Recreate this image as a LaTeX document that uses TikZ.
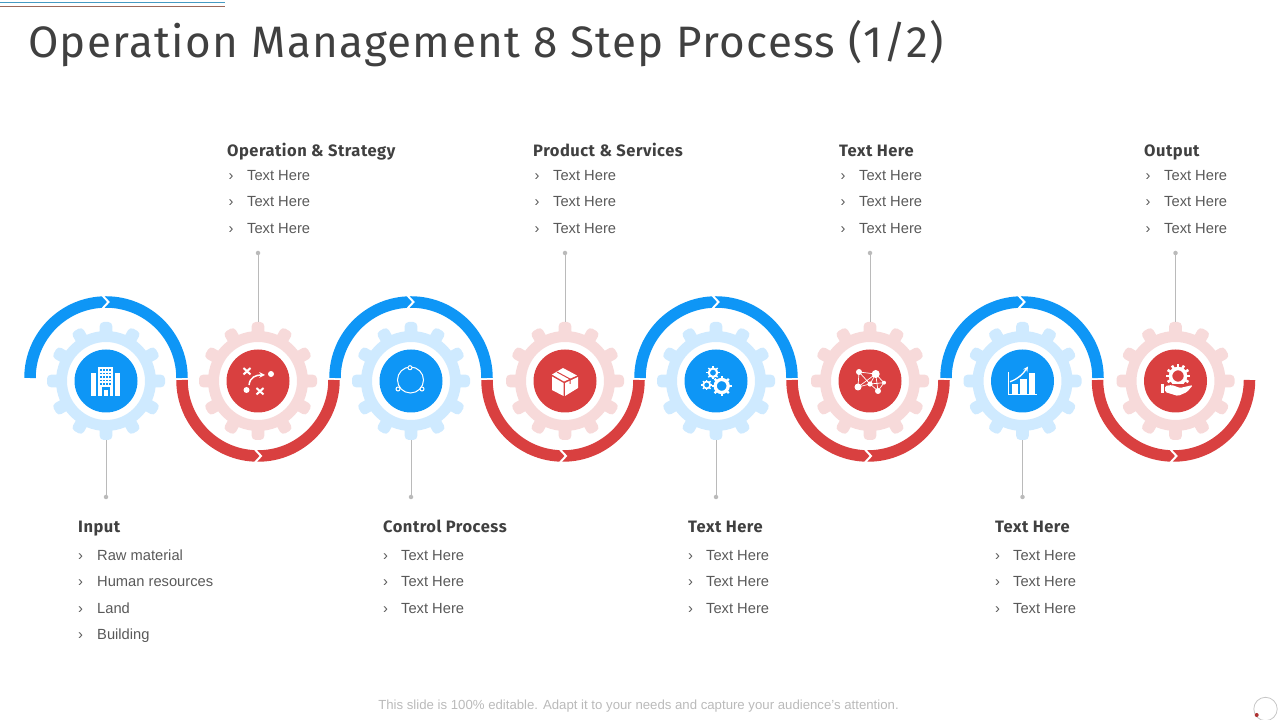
\documentclass[tikz,border=0pt]{standalone}
\usepackage{fontspec}
\setmainfont{Liberation Sans}
\newfontfamily\titlefont[LetterSpace=3]{Fira Sans}
\definecolor{stepblue}{HTML}{0E96F6}
\definecolor{stepred}{HTML}{D94040}
\definecolor{tintblue}{HTML}{CFEAFF}
\definecolor{tintred}{HTML}{F7DADA}
\definecolor{inkdark}{HTML}{404040}
\definecolor{inkgrey}{HTML}{595959}
\begin{document}
\begin{tikzpicture}[x=1pt,y=1pt]
	\tikzstyle{gearhub}=[circle,inner sep=0pt,minimum size=118pt]
	\tikzstyle{disc}=[circle,inner sep=0pt,minimum size=63pt]
	\tikzstyle{pin}=[circle,inner sep=0pt,minimum size=4.5pt,fill=black!27]
	\tikzstyle{leader}=[draw,black!27,line width=1pt]
	\tikzstyle{ribbon}=[line width=11.5pt]
	\tikzstyle{notch}=[draw,white,line width=2pt]
	\tikzstyle{heading}=[anchor=west,inner sep=0pt,text height=11pt,text depth=3pt,text=inkdark,font=\titlefont\bfseries\fontsize{16.5}{20}\selectfont]
	\tikzstyle{item}=[anchor=west,inner sep=0pt,text height=11pt,text depth=3pt,text=inkgrey,font=\fontsize{14.7}{18}\selectfont]
	\useasboundingbox (0,0) rectangle (1280,720);
	% header
	\draw[line width=1pt,color={rgb,255:red,70;green,155;blue,195}] (0,717.3) -- (225,717.3);
	\draw[line width=1pt,color={rgb,255:red,155;green,105;blue,90}] (0,713.7) -- (225,713.7);
	\node[anchor=west,inner sep=0pt,text=inkdark,font=\titlefont\fontsize{44}{50}\selectfont] (title) at (28,676) {Operation Management 8 Step Process (1/2)};
	% gears
	\foreach \gname/\gx/\gcol/\gtint in {1/106/stepblue/tintblue,2/258/stepred/tintred,3/411/stepblue/tintblue,4/565/stepred/tintred,5/716/stepblue/tintblue,6/870/stepred/tintred,7/1022.5/stepblue/tintblue,8/1175.5/stepred/tintred}{
		\foreach \a in {0,30,...,330}
			\fill[\gtint,rotate around={\a:(\gx,339)},rounded corners=4pt] (\gx-6.3,339+44) rectangle (\gx+6.3,339+59);
		\draw[\gtint,line width=11pt] (\gx,339) circle (44.5);
		\node[gearhub] (gear\gname) at (\gx,339) {};
		\node[disc,fill=\gcol] (disc\gname) at (\gx,339) {};
	}
	% ribbons
	\foreach \rx in {106,411,716,1022}{
		\draw[ribbon,stepblue] (\rx-76,342) arc (180:0:76);
		\draw[notch] (\rx-3.5,424.5) -- (\rx+2.5,418) -- (\rx-3.5,411.5);
	}
	\foreach \rx in {258,563,868,1173.5}{
		\draw[ribbon,stepred] (\rx-76,340) arc (180:360:76);
		\draw[notch] (\rx-3,270.5) -- (\rx+3,264) -- (\rx-3,257.5);
	}
	% leaders
	\foreach \gname/\gx in {1/106,3/411,5/716,7/1022.5}{
		\node[pin] (pin\gname) at (\gx,223) {};
		\path[leader] (gear\gname.south) -- (pin\gname);
	}
	\foreach \gname/\gx in {2/258,4/565,6/870,8/1175.5}{
		\node[pin] (pin\gname) at (\gx,467) {};
		\path[leader] (gear\gname.north) -- (pin\gname);
	}
	% building
	\fill[white] (91,324) rectangle (96,347);
	\fill[white] (114.5,324) rectangle (120,347);
	\fill[white] (97.5,324) rectangle (113,353);
	\foreach \wx in {100,103,...,109}
		\foreach \wy in {335,338.5,...,350}
			\fill[stepblue] (\wx,\wy) rectangle (\wx+1.5,\wy+1.8);
	\fill[stepblue] (101.5,324) rectangle (109.5,333);
	\fill[white] (103.5,324) rectangle (107.5,330);
	% strategy
	\draw[white,line width=2pt] (243.5,352) -- (250.5,345.5) (243.5,345.5) -- (250.5,352);
	\draw[white,line width=2pt] (256.5,325.5) -- (263.5,332) (256.5,332) -- (263.5,325.5);
	\fill[white] (271,346) circle (3);
	\fill[white] (246.5,330) circle (3);
	\draw[white,line width=1.5pt,->,>=stealth] (249,335) .. controls (250,343) and (256,345) .. (265,345);
	% cycle
	\draw[white,line width=1pt] (410.5,340) circle (13);
	\foreach \dx/\dy in {410/352.3,398/331,422/331}
		\draw[white,fill=stepblue,line width=1pt] (\dx,\dy) circle (2);
	% box
	\fill[white] (552,343.5) -- (563.5,337) -- (563.5,324) -- (552,330) -- cycle;
	\fill[white] (565,337) -- (578,343) -- (578,332) -- (565,324) -- cycle;
	\fill[white] (552,345.5) -- (563,352) -- (577,344.5) -- (564,338.5) -- cycle;
	\draw[stepred,line width=1pt] (557,348) -- (570,341) -- (570,336);
	% cogs
	\foreach \cx/\cy/\cr in {713/347.3/4.2,706.7/335/3.5,721.7/334/6.5}{
		\draw[white,line width=0.5*\cr] (\cx,\cy) circle (\cr);
		\foreach \a in {0,45,...,315}
			\draw[white,line width=0.35*\cr,rotate around={\a:(\cx,\cy)}] (\cx,\cy+\cr) -- (\cx,\cy+1.55*\cr);
	}
	% network
	\draw[white,line width=0.7pt] (859,348) -- (875.7,346) -- (884,337.3) -- (878,329) -- (870,336) -- (858,333) -- cycle (875.7,346) -- (870,336) -- (884,337.3) (859,348) -- (870,336) (875.7,346) -- (878,329) (858,333) -- (875.7,346);
	\foreach \nx/\ny/\nr in {859/348/3,875.7/346/4,858/333/3.5,870/336/2.6,884/337.3/2,878/329/3}
		\fill[white] (\nx,\ny) circle (\nr);
	% chart
	\draw[white,line width=1pt] (1008,348) -- (1008,325) -- (1037,325);
	\fill[white] (1011.7,326) rectangle (1018.3,336);
	\fill[white] (1020,326) rectangle (1026.7,340.7);
	\fill[white] (1029,326) rectangle (1035,347);
	\draw[white,line width=1.3pt,->,>=stealth] (1010,338.3) .. controls (1018,341) and (1023,346) .. (1028,353.5);
	% hand with gear
	\foreach \a in {0,30,...,330}
		\draw[white,line width=2.6pt,rotate around={\a:(1178,344)}] (1178,344+8) -- (1178,344+12);
	\draw[white,line width=3.5pt] (1178,344) circle (7.5);
	\fill[white] (1161,327) rectangle (1164,336);
	\fill[stepred] (1164.5,326) rectangle (1194,335.5);
	\fill[white,rounded corners=1.5pt] (1165,334) -- (1172,335) -- (1180,332) -- (1193,335) -- (1187,328) -- (1178,324) -- (1165,328) -- cycle;
	% upper texts
	\foreach \tname/\hx/\ix/\ttl in {a/227/247/Operation \& Strategy,b/533/553/Product \& Services,c/839/859/Text Here,d/1144/1164/Output}{
		\node[heading] (head\tname) at (\hx,567.5) {\ttl};
		\foreach \ty in {543.5,517.5,490.5}{
			\node[item] (mark\tname\ty) at (\hx+1.5,\ty) {›};
			\node[item] (item\tname\ty) at (\ix,\ty) {Text Here};
		}
	}
	% lower texts
	\node[heading] (headinput) at (78,191.5) {Input};
	\foreach \ty/\ttl in {163.5/Raw material,137.5/Human resources,110.5/Land,84.5/Building}{
		\node[item] (markinput\ty) at (78,\ty) {›};
		\node[item] (iteminput\ty) at (97,\ty) {\ttl};
	}
	\foreach \tname/\hx/\ix/\ttl in {e/383/401/Control Process,f/688/706/Text Here,g/995/1013/Text Here}{
		\node[heading] (head\tname) at (\hx,191.5) {\ttl};
		\foreach \ty in {163.5,137.5,110.5}{
			\node[item] (mark\tname\ty) at (\hx,\ty) {›};
			\node[item] (item\tname\ty) at (\ix,\ty) {Text Here};
		}
	}
	% footer
	\node[inner sep=0pt,text=black!27,font=\fontsize{13.2}{15}\selectfont] (footer) at (638.5,14) {This slide is 100\% editable. Adapt it to your needs and capture your audience's attention.};
	\draw[black!22,line width=0.8pt] (1265.5,11) circle (11.7);
	\fill[stepred!80!black] (1256.7,5) circle (2);
\end{tikzpicture}
\end{document}
